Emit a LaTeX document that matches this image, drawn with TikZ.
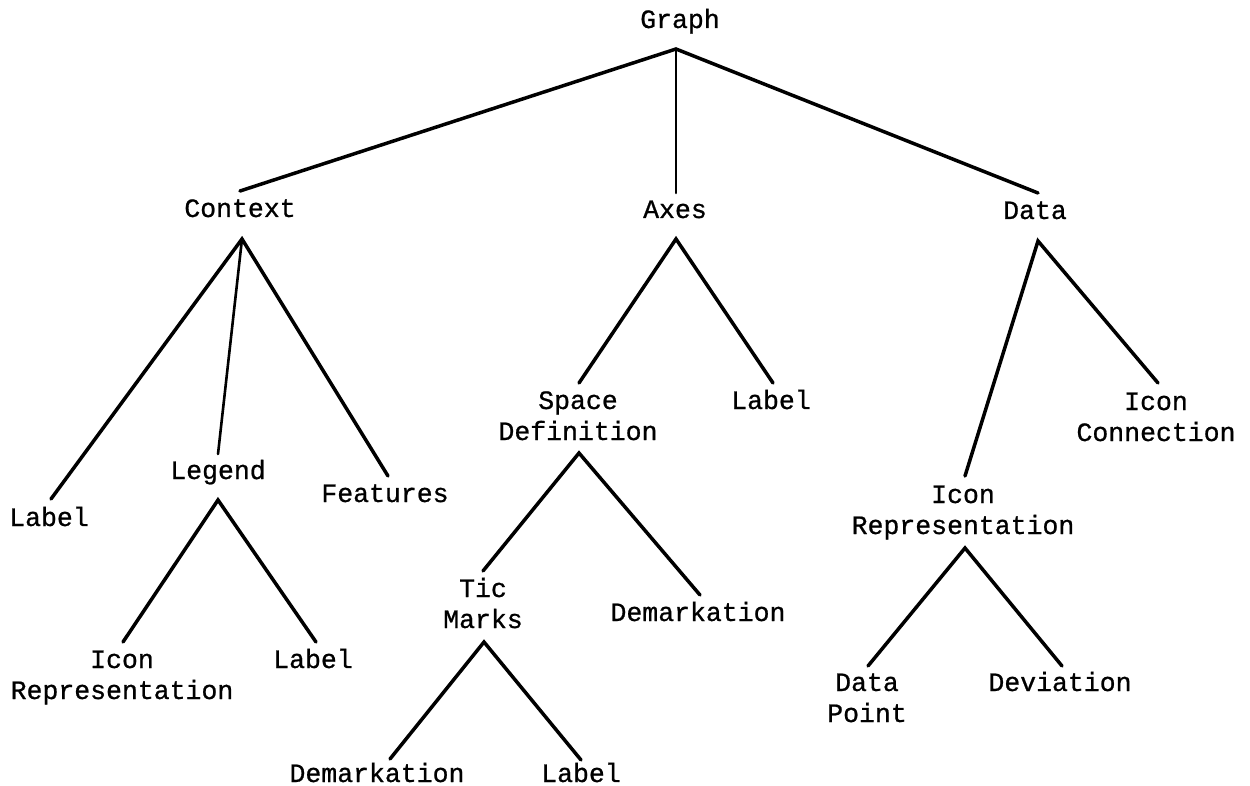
\documentclass[tikz,border=0pt]{standalone}
\usepackage{fontspec}
\newfontfamily\cour[FakeBold=0.8]{Liberation Mono}
\begin{document}
\begin{tikzpicture}[x=1pt,y=-1pt,
  lbl/.style={anchor=base,inner sep=0pt,align=center,font=\cour\fontsize{26.5}{31}\selectfont},
  edge/.style={line width=3.5pt,line cap=round},
  thinedge/.style={line width=2.6pt,line cap=round}]
\useasboundingbox (0,0) rectangle (1250,786);
\fill[white] (0,0) rectangle (1250,786);
% nodes (anchor base = baseline of the last line)
\node[lbl] (graph) at (680,28) {Graph};
\node[lbl] (context) at (240,217) {Context};
\node[lbl] (axes) at (675,218) {Axes};
\node[lbl] (data) at (1035,219) {Data};
\node[lbl] (labelA) at (49,526) {Label};
\node[lbl] (legend) at (218,479) {Legend};
\node[lbl] (features) at (385,502) {Features};
\node[lbl] (iconrepA) at (122,699) {Icon\\Representation};
\node[lbl] (labelB) at (313,668) {Label};
\node[lbl] (spacedef) at (578,440) {Space\\Definition};
\node[lbl] (labelC) at (771,409) {Label};
\node[lbl] (ticmarks) at (483,628) {Tic\\Marks};
\node[lbl] (demarkA) at (698,621) {Demarkation};
\node[lbl] (demarkB) at (377,782) {Demarkation};
\node[lbl] (labelD) at (581,782) {Label};
\node[lbl] (iconconn) at (1156,441) {Icon\\Connection};
\node[lbl] (iconrepB) at (963,534) {Icon\\Representation};
\node[lbl] (datapoint) at (867,722) {Data\\Point};
\node[lbl] (deviation) at (1060,691) {Deviation};
% connector end points
\coordinate (graph-s) at (676,49);
\coordinate (context-n) at (240,191);
\coordinate (axes-n) at (676,193);
\coordinate (data-n) at (1038,193);
\coordinate (context-s) at (242,239);
\coordinate (labelA-n) at (51,499);
\coordinate (legend-n) at (218,454);
\coordinate (features-n) at (388,476);
\coordinate (legend-s) at (218,500);
\coordinate (iconrepA-n) at (123,642);
\coordinate (labelB-n) at (316,642);
\coordinate (axes-s) at (676,239);
\coordinate (spacedef-n) at (579,383);
\coordinate (labelC-n) at (773,383);
\coordinate (spacedef-s) at (579,453);
\coordinate (ticmarks-n) at (483,571);
\coordinate (demarkA-n) at (700,595);
\coordinate (ticmarks-s) at (484,642);
\coordinate (demarkB-n) at (390,759);
\coordinate (labelD-n) at (581,760);
\coordinate (data-s) at (1038,241);
\coordinate (iconrepB-n) at (965,476);
\coordinate (iconconn-n) at (1158,383);
\coordinate (iconrepB-s) at (965,548);
\coordinate (datapoint-n) at (868,666);
\coordinate (deviation-n) at (1062,666);
% connectors
\draw[edge] (context-n) -- (graph-s) -- (data-n);
\draw[thinedge] (graph-s) -- (axes-n);
\draw[edge] (labelA-n) -- (context-s) -- (features-n);
\draw[thinedge] (context-s) -- (legend-n);
\draw[edge] (iconrepA-n) -- (legend-s) -- (labelB-n);
\draw[edge] (spacedef-n) -- (axes-s) -- (labelC-n);
\draw[edge] (ticmarks-n) -- (spacedef-s) -- (demarkA-n);
\draw[edge] (demarkB-n) -- (ticmarks-s) -- (labelD-n);
\draw[edge] (iconrepB-n) -- (data-s) -- (iconconn-n);
\draw[edge] (datapoint-n) -- (iconrepB-s) -- (deviation-n);
\end{tikzpicture}
\end{document}
